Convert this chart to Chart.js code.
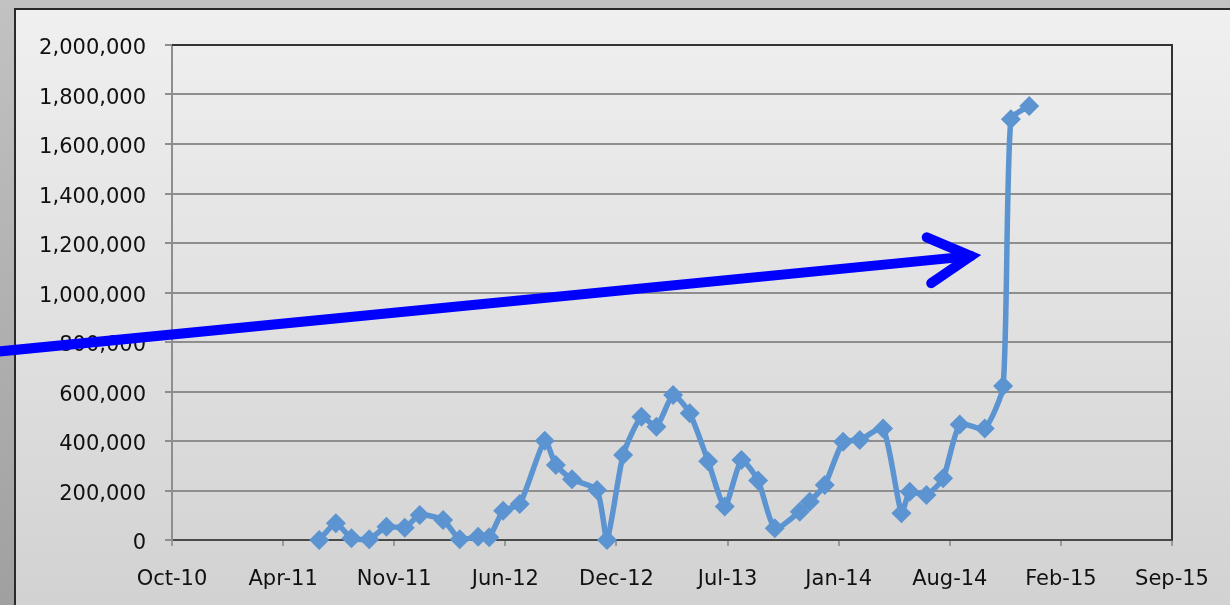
<!DOCTYPE html>
<html><head><meta charset="utf-8">
<script src="https://cdn.jsdelivr.net/npm/chart.js@4"></script>
<style>
html,body{margin:0;padding:0;width:1230px;height:605px;overflow:hidden;}
body{background:linear-gradient(#c2c2c2,#a0a0a0);position:relative;}
#panel{position:absolute;left:14px;top:8px;right:0;bottom:0;border-left:2px solid #2a2a2a;border-top:2px solid #2a2a2a;background:linear-gradient(#f0f0f0,#d2d2d2);}
canvas{position:absolute;left:0;top:0;}
</style></head><body><div id="panel"></div><canvas id="c" width="1230" height="605"></canvas>
<script>
// ---- data ----
const axisStart = '2010-10-11';
const tickStepDays = 200;
const xTickLabels = ['Oct-10','Apr-11','Nov-11','Jun-12','Dec-12','Jul-13','Jan-14','Aug-14','Feb-15','Sep-15'];
const dates = ['2011-07-03','2011-08-02','2011-08-30','2011-10-01','2011-11-01','2011-12-04','2011-12-31',
  '2012-02-11','2012-03-12','2012-04-14','2012-05-04','2012-05-29','2012-06-28','2012-08-12','2012-09-01',
  '2012-09-30','2012-11-14','2012-12-02','2012-12-31','2013-02-02','2013-03-01','2013-03-31','2013-04-30',
  '2013-06-02','2013-07-02','2013-08-01','2013-08-31','2013-09-30','2013-11-14','2013-12-02','2013-12-29',
  '2014-01-31','2014-03-02','2014-04-13','2014-05-16','2014-05-31','2014-06-30','2014-07-30','2014-08-29',
  '2014-10-13','2014-11-15','2014-11-29','2015-01-01'];
const values = [0,68000,7000,3000,54000,50000,101000,81000,3000,13000,11000,118000,145000,401000,303000,
  245000,202000,0,343000,498000,458000,586000,512000,318000,135000,323000,240000,47000,114000,155000,222000,
  397000,404000,451000,108000,195000,182000,249000,467000,451000,622000,1700000,1754000];
const yMin = 0, yMax = 2000000, yStep = 200000;
const arrowTail = {date:'2009-11-26', value:760000};
const arrowTip  = {date:'2014-09-18', value:1147000};

function dayOffset(d){ return (Date.parse(d+'T00:00:00Z') - Date.parse(axisStart+'T00:00:00Z'))/86400000; }

const FONT = {family:'"DejaVu Sans", sans-serif', size:21};
const TXT = '#111';

const framePlugin = {
  id:'frame',
  beforeDatasetsDraw(chart){
    const a = chart.chartArea, ctx = chart.ctx;
    ctx.save();
    ctx.strokeStyle = '#333'; ctx.lineWidth = 2;
    ctx.beginPath();
    ctx.moveTo(a.left, a.top); ctx.lineTo(a.right, a.top); ctx.lineTo(a.right, a.bottom);
    ctx.stroke();
    ctx.restore();
  }
};

const arrowPlugin = {
  id:'arrow',
  afterDraw(chart){
    const xs = chart.scales.x, ys = chart.scales.y, ctx = chart.ctx;
    const ax = xs.getPixelForValue(dayOffset(arrowTail.date)), ay = ys.getPixelForValue(arrowTail.value);
    const tx = xs.getPixelForValue(dayOffset(arrowTip.date)), ty = ys.getPixelForValue(arrowTip.value);
    const back = Math.atan2(ay - ty, ax - tx);
    const wl = 48, wa = 0.5;
    ctx.save();
    ctx.strokeStyle = '#0000ff'; ctx.lineWidth = 10;
    ctx.lineCap = 'round'; ctx.lineJoin = 'miter';
    ctx.beginPath(); ctx.moveTo(ax, ay); ctx.lineTo(tx, ty); ctx.stroke();
    ctx.beginPath();
    ctx.moveTo(tx + wl*Math.cos(back+wa), ty + wl*Math.sin(back+wa));
    ctx.lineTo(tx, ty);
    ctx.lineTo(tx + wl*Math.cos(back-wa), ty + wl*Math.sin(back-wa));
    ctx.stroke();
    ctx.restore();
  }
};

new Chart(document.getElementById('c'), {
  type:'line',
  data:{datasets:[{
    data: dates.map((d,i)=>({x:dayOffset(d), y:values[i]})),
    borderColor:'#5b94d0', backgroundColor:'#5b94d0', borderWidth:5.5,
    pointStyle:'rectRot', pointRadius:10, pointBorderWidth:0, pointBackgroundColor:'#5b94d0',
    tension:0.2, clip:false
  }]},
  options:{
    responsive:false, animation:false,
    layout:{padding:{left:0, top:45, right:58, bottom:0}},
    plugins:{legend:{display:false}, tooltip:{enabled:false}},
    scales:{
      x:{type:'linear', min:0, max:9*tickStepDays,
        ticks:{stepSize:tickStepDays, autoSkip:false, maxRotation:0, font:FONT, color:TXT, padding:21,
          callback:(v,i)=>xTickLabels[i]},
        grid:{drawOnChartArea:false, tickLength:6, color:'#9a9a9a', lineWidth:2},
        border:{color:'#4a4a4a', width:2},
        afterFit:s=>{s.height = 65;}
      },
      y:{min:yMin, max:yMax,
        ticks:{stepSize:yStep, font:FONT, color:TXT, padding:19, labelOffset:4, callback:v=>v.toLocaleString('en-US')},
        grid:{color:'#8e8e8e', lineWidth:2, tickLength:7},
        border:{color:'#8e8e8e', width:2},
        afterFit:s=>{s.width = 172;}
      }
    }
  },
  plugins:[framePlugin, arrowPlugin]
});
</script></body></html>
